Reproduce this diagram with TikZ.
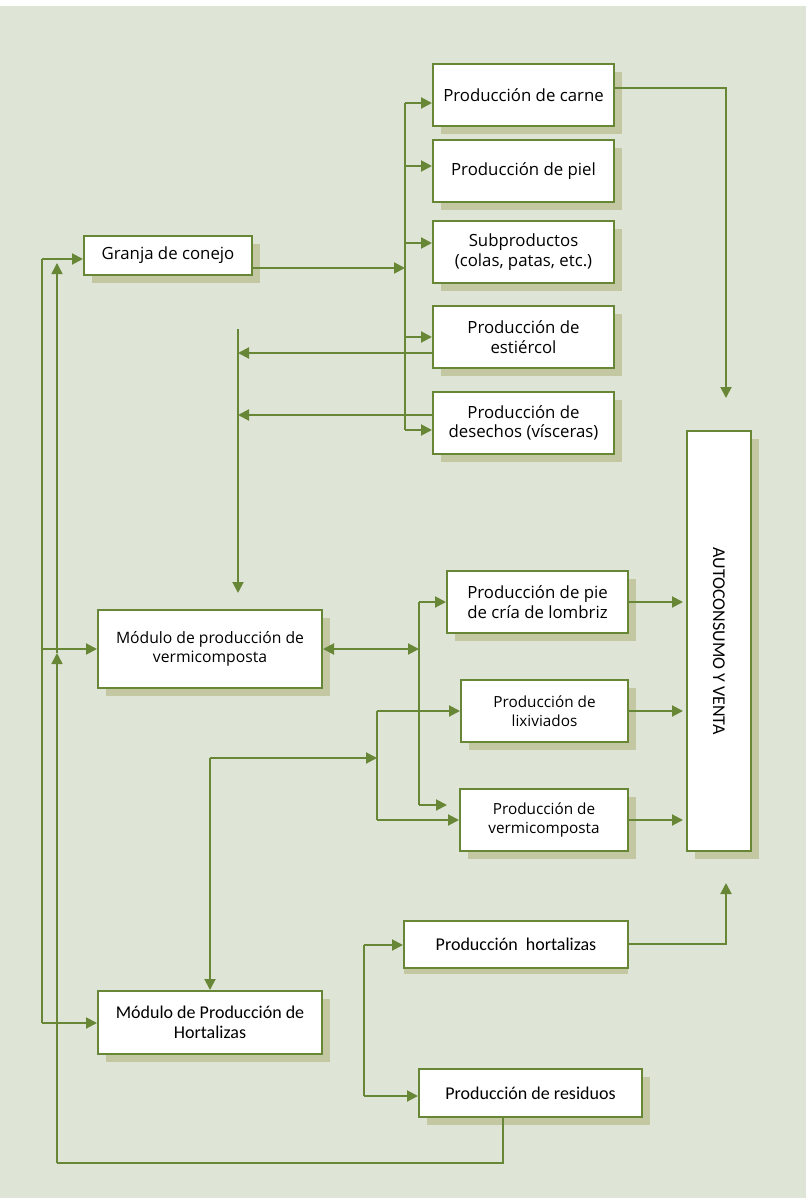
\documentclass[tikz,border=0pt]{standalone}
\usepackage{fontspec}
\setmainfont{Open Sans}
\newfontfamily\calfont{Carlito}
\usetikzlibrary{arrows.meta,shadows}
\definecolor{bgc}{HTML}{DFE5D6}
\definecolor{lnc}{HTML}{678737}
\definecolor{shc}{HTML}{C4C8A2}
\begin{document}
\begin{tikzpicture}[x=1pt,y=-1pt,
  boxbase/.style={draw=lnc, line width=2pt, fill=white, align=center, inner sep=0pt,
    font=\fontsize{16.8}{19.5}\selectfont},
  sh/.style={drop shadow={shadow xshift=8pt, shadow yshift=-8pt, fill=shc, opacity=1}},
  box/.style={boxbase, sh},
  boxs/.style={box, font=\fontsize{15.3}{19.3}\selectfont},
  boxc/.style={box, font=\calfont\fontsize{18}{20}\selectfont},
  ln/.style={draw=lnc, line width=2pt},
  lnt/.style={draw=lnc, line width=1.6pt},
  arr/.style={ln, -{Triangle[length=11pt,width=11pt]}},
  arrt/.style={lnt, -{Triangle[length=11pt,width=11pt]}},
  dbl/.style={ln, {Triangle[length=11pt,width=11pt]}-{Triangle[length=11pt,width=11pt]}}]
\useasboundingbox (0,0) rectangle (806,1198);
\fill[white] (0,0) rectangle (806,1198);
\fill[bgc] (0,6) rectangle (806,1198);

% boxes
\node[box, minimum width=168pt, minimum height=39pt] (granja) at (168,255.5) {Granja de conejo};
\node[box, minimum width=181pt, minimum height=62pt] (carne) at (523.5,95) {Producción de carne};
\node[box, minimum width=181pt, minimum height=62pt] (piel) at (523.5,171) {Producción de piel};
\node[box, minimum width=181pt, minimum height=62pt] (sub) at (523.5,252) {Subproductos\\ (colas, patas, etc.)};
\node[box, minimum width=181pt, minimum height=62pt] (est) at (523.5,337) {Producción de\\estiércol};
\node[box, minimum width=181pt, minimum height=62pt] (des) at (523.5,423) {Producción de\\desechos (vísceras)};
\node[box, minimum width=64pt, minimum height=420pt] (auto) at (719,641) {};
\node[font=\calfont\fontsize{18}{20}\selectfont, rotate=-90] (autotxt) at (auto.center) {AUTOCONSUMO Y VENTA};
\node[box, font=\fontsize{15.7}{19.5}\selectfont, minimum width=224pt, minimum height=78pt] (mv) at (210,649) {Módulo de producción de\\vermicomposta};
\node[box, minimum width=181pt, minimum height=62pt] (pie) at (537.5,602) {Producción de pie\\de cría de lombriz};
\node[boxs, minimum width=167pt, minimum height=62pt] (lix) at (544.5,711) {Producción de\\lixiviados};
\node[boxs, minimum width=168pt, minimum height=62pt] (vc) at (544,820) {Producción de\\vermicomposta};
\node[boxc, minimum width=224pt, minimum height=63pt] (mh) at (210,1022.5) {Módulo de Producción de\\Hortalizas};
\node[boxbase, font=\calfont\fontsize{18}{20}\selectfont, drop shadow={shadow xshift=0pt, shadow yshift=-6pt, fill=shc, opacity=1}, minimum width=224pt, minimum height=47pt] (ph) at (516,944.5) {Producción\ \ hortalizas};
\node[boxc, minimum width=223pt, minimum height=48pt] (res) at (530.5,1093) {Producción de residuos};

% bus 1
\coordinate (b1a) at (405,103);
\coordinate (b1b) at (405,166);
\coordinate (b1c) at (405,243);
\coordinate (b1g) at (405,268);
\coordinate (b1d) at (405,337);
\coordinate (b1e) at (405,430);
\draw[ln] (b1a) -- (b1e);
\draw[arr] (b1a) -- (b1a -| carne.west);
\draw[arr] (b1b) -- (b1b -| piel.west);
\draw[arr] (b1c) -- (b1c -| sub.west);
\draw[arr] (b1d) -- (b1d -| est.west);
\draw[arr] (b1e) -- (b1e -| des.west);
\draw[arr] (b1g -| granja.east) -- (b1g);

% estiercol / desechos -> vermicomposta module
\coordinate (v1) at (238,353);
\coordinate (v2) at (238,415);
\coordinate (vt) at (238,329);
\coordinate (vb) at (238,593);
\draw[arr] (v1 -| est.west) -- (v1);
\draw[arr] (v2 -| des.west) -- (v2);
\draw[arr] (vt) -- (vb);

% carne -> autoconsumo
\coordinate (c1) at (726,88);
\coordinate (c2) at (726,398);
\draw[arr] (c1 -| carne.east) -- (c1) -- (c2);

% left feed line
\coordinate (l1) at (42,259);
\coordinate (l2) at (42,1023);
\coordinate (l3) at (42,649);
\draw[arr] (l1) -- (l1 -| granja.west);
\draw[ln] (l1) -- (l2);
\draw[arr] (l3) -- (mv.west);
\draw[arr] (l2) -- (l2 -| mh.west);

% return line from residuos
\coordinate (r0) at (503,1163);
\coordinate (r1) at (57,1163);
\coordinate (r2) at (57,653);
\coordinate (r3) at (57,263);
\draw[lnt] (r0 |- res.south) -- (r0) -- (r1);
\draw[arrt] (r1) -- (r2);
\draw[arrt] (r2) -- (r3);

% vermicomposta module <-> bus 2
\coordinate (m1) at (419,649);
\coordinate (m2) at (419,602);
\coordinate (m3) at (419,805);
\coordinate (m4) at (447,805);
\draw[dbl] (mv.east) -- (m1);
\draw[ln] (m2) -- (m3);
\draw[arr] (m2) -- (pie.west);
\draw[arr] (m3) -- (m4);

% bus 3
\coordinate (n1) at (377,711);
\coordinate (n2) at (377,820);
\coordinate (n3) at (377,758);
\coordinate (n4) at (210,758);
\draw[ln] (n1) -- (n2);
\draw[arr] (n1) -- (lix.west);
\draw[arr] (n2) -- (vc.west);
\draw[arr] (n4) -- (n3);
\draw[arr] (n4) -- (mh.north);

% outputs to autoconsumo
\coordinate (o1) at (683,602);
\coordinate (o2) at (683,711);
\coordinate (o3) at (683,820);
\draw[arr] (pie.east) -- (o1);
\draw[arr] (lix.east) -- (o2);
\draw[arr] (vc.east) -- (o3);

% hortalizas
\coordinate (h1) at (726,944);
\coordinate (h2) at (726,883);
\draw[arr] (h1 -| ph.east) -- (h1) -- (h2);
\coordinate (k1) at (364,945);
\coordinate (k2) at (364,1096);
\draw[ln] (k1) -- (k2);
\draw[arr] (k1) -- (k1 -| ph.west);
\draw[arr] (k2) -- (k2 -| res.west);
\end{tikzpicture}
\end{document}
